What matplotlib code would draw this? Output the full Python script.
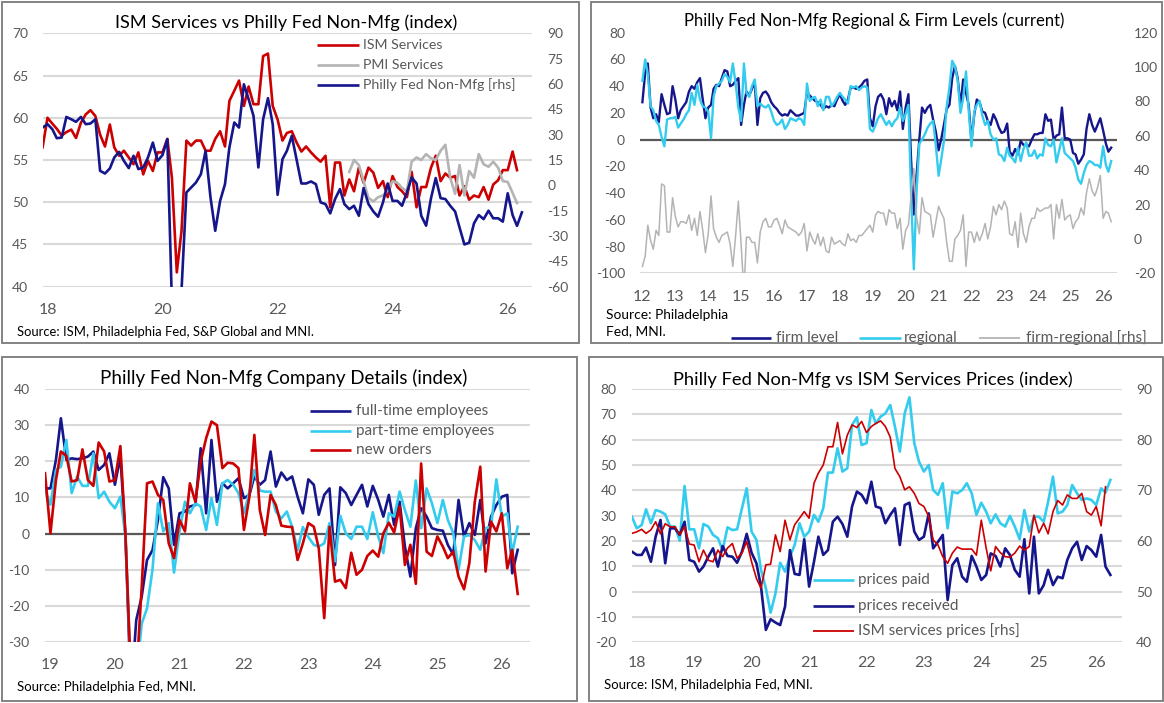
import numpy as np
import pandas as pd
import matplotlib
matplotlib.use("Agg")
import matplotlib.pyplot as plt
import matplotlib.dates as mdates
from matplotlib.lines import Line2D
from matplotlib.patches import Rectangle
from datetime import datetime

plt.rcParams['font.family'] = ['Lato', 'DejaVu Sans']
plt.rcParams['axes.unicode_minus'] = False

# ======================= DATA =======================
# ---- Panel 1: ISM Services vs Philly Fed Non-Mfg (monthly, from Dec 2017)
p1_start = '2017-12-01'
ism_services = [
    56.5,
    60.0, 59.3, 58.7, 57.9, 58.3, 58.6, 57.6, 59.4, 60.4, 60.9, 60.2, 58.0,
    56.6, 59.2, 56.5, 55.5, 56.1, 55.3, 54.5, 55.9, 53.3, 54.9, 53.7, 55.9,
    55.9, 57.5, 52.9, 41.7, 46.6, 57.3, 56.7, 57.3, 57.3, 56.1, 56.1, 57.5,
    58.4, 56.6, 62.0, 63.2, 64.4, 61.4, 63.7, 61.6, 61.6, 67.3, 67.6, 61.4,
    59.8, 57.3, 58.2, 58.4, 57.1, 56.0, 56.6, 55.9, 55.3, 54.8, 55.5, 49.4,
    54.7, 54.7, 50.8, 52.7, 51.3, 54.1, 52.3, 54.1, 53.5, 51.7, 52.5, 50.6,
    53.1, 51.8, 51.3, 50.6, 53.6, 49.4, 51.8, 51.8, 54.1, 55.5, 52.5, 53.4,
    52.9, 53.1, 50.8, 51.9, 50.3, 50.8, 50.6, 51.8, 50.3, 52.1, 52.6, 53.8,
    53.8, 56.0, 53.8]
pmi_start = '2023-04-01'
pmi_services = [
    53.6, 55.0, 54.4, 52.5, 50.5, 50.1, 50.6, 50.8, 51.4,
    52.5, 52.3, 51.7, 51.3, 54.8, 55.3, 55.0, 55.7, 55.2, 55.0, 56.1, 56.8,
    52.9, 51.0, 54.4, 50.8, 53.7, 52.9, 55.7, 54.5, 54.2, 54.8, 54.1, 52.5,
    52.4, 51.1, 49.9]
philly_nonmfg = [
    34.2,
    36.2, 33.2, 27.9, 28.3, 40.5, 39.1, 37.6, 40.5, 36.2, 36.6, 39.1, 8.6,
    7.0, 10.0, 16.5, 19.8, 14.5, 10.2, 17.5, 9.6, 10.6, 16.5, 25.3, 14.5,
    17.9, 27.3, -70.0, -80.0, -62.0, -4.2, -1.3, 1.7, 6.6, 20.4, -7.2, -26.9,
    -9.2, 0.7, 22.5, 37.2, 34.2, 59.8, 51.0, 41.1, 10.6, 39.1, 51.6, 36.2,
    -5.6, 15.5, 20.4, 29.3, 15.5, 1.1, 1.1, 2.3, 0.7, -10.1, -11.1, -16.6,
    -8.1, -2.2, -11.1, -14.1, -12.1, -18.0, -1.6, -11.1, -15.5, -18.6, -10.1, 1.1,
    -9.2, -9.2, -12.1, -4.2, 4.7, 1.1, -18.0, -23.9, -7.6, 4.3, -7.6, -8.1,
    -12.1, -15.5, -24.9, -35.0, -34.0, -22.5, -17.6, -20.0, -15.0, -19.5, -19.5, -21.5,
    -4.7, -17.6, -24.0, -16.0]
p1_years = [2018, 2020, 2022, 2024, 2026]

# ---- Panel 2: Regional & firm levels (monthly, from Jan 2012)
p2_start = '2012-01-01'
firm_level = [
    28, 50, 57, 24, 16, 19, 13, 34, 26, 19,
    20, 40, 30, 16, 22, 25, 28, 36, 40, 38,
    43, 46, 30, 16, 24, 26, 38, 41, 40, 46,
    52, 51, 40, 41, 44, 46, 11, 26, 36, 33,
    38, 43, 11, 31, 35, 36, 33, 28, 25, 23,
    20, 18, 19, 18, 22, 20, 18, 18, 19, 20,
    35, 33, 31, 29, 28, 26, 23, 25, 24, 26,
    25, 30, 34, 29, 26, 30, 39, 39, 38, 39,
    41, 44, 45, 16, 10, 25, 32, 34,
    30, 19, 31, 25, 29, 22, 36, 8, 24, 34,
    -14, -56, -27, 0, 24, 20, 24, 26, 15, 6,
    -8, 1, 11, 23, 26, 46, 55, 46, 25, 45,
    35, 26, -1, 19, 30, 28, 21, 20, 14, 11,
    19, 15, 9, 5, 6, 12, -9, -12, -7, -11,
    -1, -4, -4, -5, 0, 4, 4, 5, 5, 19,
    14, 15, 0, 3, 4, 24, 1, 1, 0, -10,
    -11, -18, -15, -11, 8, 19, 11, 6, 11, 16,
    7, -3, -9, -6]
regional = [
    44, 60, 49, 25, 22, 14, 11, 2, -5, 15,
    16, 16, 17, 9, 12, 15, 19, 22, 35, 26,
    41, 30, 25, 24, 21, 1, 32, 40, 42, 44,
    49, 47, 43, 57, 42, 24, 14, 57, 35, 32,
    40, 45, 25, 27, 25, 24, 26, 21, 14, 11,
    12, 15, 8, 11, 16, 15, 14, 16, 15, 11,
    42, 29, 31, 32, 25, 30, 22, 32, 32, 25,
    28, 32, 35, 32, 30, 27, 40, 39, 40, 37,
    39, 40, 39, 8, 6, 11, 16, 19,
    15, 11, 14, 10, 14, 16, 24, 14, 19, 26,
    -39, -97, -40, -3, 0, 4, 9, 12, 14, -4,
    -27, -14, -1, 25, 39, 59, 55, 44, 20, 31,
    51, 22, -5, 21, 26, 29, 18, 11, 14, 4,
    0, 1, -11, -12, -16, -6, -12, -14, -17, -6,
    -16, -7, -2, -12, -12, -8, -14, -11, -12, 1,
    -4, -5, 0, -17, -8, 1, -10, -12, -14, -16,
    -21, -30, -33, -25, -19, -16, -17, -19, -19, -21,
    -5, -19, -24, -16]
p2_years = list(range(2012, 2027))

# ---- Panel 3: company details (monthly, from Dec 2018)
p3_start = '2018-12-01'
full_time = [
    12.5, 12.5, 20.4, 31.9, 20.4, 20.8, 20.6, 20.8, 21.3, 22.7, 17.6, 19.0, 22.2,
    13.5, 21.3, -0.8, -45.0, -23.9, -17.4, -7.3, -4.6, 3.8, 15.6, 12.5, -3.1,
    5.6, 6.1, 7.5, 7.9, 23.6, 5.6, 25.9, 8.8, 13.9, 12.5, 13.9, 15.3,
    9.8, 10.7, 15.8, 13.5, 14.8, 22.7, 13.0, 16.9, 14.8, 15.8, 10.2, 5.6,
    15.0, 13.5, 5.2, 10.7, 12.5, -8.7, 12.8, 11.2, 7.9, 10.7, 13.5, 7.5,
    13.2, 9.3, 4.7, 10.7, 2.4, 8.8, -3.6, -11.9, 1.5, 7.0, 4.7, 1.5,
    1.0, 0.8, -3.1, -5.8, 9.3, -0.8, 2.9, -0.4, 9.3, -2.7, 4.7, 7.9,
    10.2, 10.7, -11.0, -4.5]
part_time = [
    12.0, 8.0, 17.6, 18.5, 25.9, 11.2, 15.8, 13.2, 13.2, 22.2, 9.8, 11.6, 8.8,
    7.0, 10.2, -0.8, -40.0, -40.0, -24.9, -20.7, -10.0, 8.4, 0.6, 2.9, -10.8,
    0.6, 8.8, 5.6, 8.4, 7.5, 1.0, 9.8, 2.4, 13.9, 14.8, 13.5, 11.2,
    5.6, 11.6, 17.6, 11.9, 11.6, 11.6, 6.1, 4.2, 6.1, 1.9, -4.6, 1.8,
    -1.0, -3.1, -3.6, -2.7, 2.9, -7.7, 4.9, 0.1, -1.5, 1.9, 1.9, -1.5,
    5.9, -0.8, -5.4, 5.6, 4.7, 11.6, 6.5, 1.9, 14.7, 1.5, 12.5, 8.4,
    2.9, 9.3, 3.8, 0.1, -10.0, -0.8, -0.4, -1.8, -4.5, 1.5, 1.9, 15.0,
    4.7, 5.6, -5.4, 1.9]
new_orders = [
    16.7, 0.1, 14.8, 22.7, 21.5, 14.4, 14.8, 23.3, 14.8, 13.2, 25.2, 22.7, 14.4,
    14.8, 24.2, -0.4, -40.0, -40.0, -14.7, 13.9, 14.4, 10.7, 9.3, -2.7, -6.8,
    3.8, 0.6, 13.9, 8.8, 19.9, 26.4, 31.0, 30.0, 18.1, 19.6, 19.4, 18.1,
    1.0, 10.2, 27.3, 6.5, -0.4, 10.7, 7.9, 2.2, 1.9, 1.8, -7.3, -2.7,
    2.9, 1.9, -4.1, -23.4, 1.9, -13.3, -12.8, -15.1, -5.3, -11.4, -10.0, -6.2,
    -4.7, -6.4, 0.1, 3.0, 0.3, 7.5, -8.7, -3.1, -13.9, 19.4, -5.0, -6.2,
    -0.8, -3.6, -6.8, -5.0, -11.9, -15.4, -8.2, 8.8, 18.5, -10.5, 3.3, 0.6,
    5.6, -9.6, -4.5, -16.7]
p3_years = list(range(2019, 2027))

# ---- Panel 4: prices (monthly, from Dec 2017)
p4_start = '2017-12-01'
prices_paid = [
    29.6,
    25.0, 26.3, 32.5, 27.0, 32.2, 31.6, 30.5, 25.7, 25.7, 20.1, 41.7, 24.6,
    24.6, 17.1, 26.7, 25.7, 22.4, 21.1, 16.4, 25.4, 24.3, 24.6, 32.9, 40.8,
    23.7, 20.4, 8.6, 1.3, -8.3, -0.7, 11.4, 7.9, 13.8, 18.4, 27.0, 21.7,
    23.7, 30.3, 27.6, 32.9, 47.0, 47.0, 56.6, 47.4, 48.7, 65.8, 68.8, 57.9,
    58.6, 71.7, 66.4, 69.1, 70.4, 73.7, 65.1, 55.3, 70.4, 76.7, 58.6, 51.3,
    47.4, 50.0, 40.1, 38.2, 42.8, 25.0, 39.5, 38.8, 40.1, 42.8, 38.8, 30.3,
    35.1, 31.6, 27.0, 30.5, 27.0, 25.7, 29.9, 25.7, 20.7, 32.2, 23.7, 29.6,
    29.6, 27.6, 35.5, 45.4, 30.9, 31.6, 34.2, 42.1, 38.8, 36.2, 36.8, 36.2,
    34.2, 40.8, 39.1, 44.1]
prices_received = [
    15.8,
    14.5, 14.5, 17.4, 11.8, 21.7, 28.3, 11.2, 25.0, 25.0, 22.4, 27.6, 12.5,
    11.8, 7.9, 9.9, 13.8, 17.1, 9.9, 18.0, 14.1, 13.8, 11.4, 15.8, 22.8,
    15.4, 11.2, 2.0, -15.1, -10.9, -12.2, -13.2, -5.9, 16.4, 7.0, 6.6, 20.7,
    2.0, 11.8, 21.7, 14.5, 16.4, 27.6, 29.6, 26.7, 21.7, 33.6, 39.5, 38.2,
    34.9, 43.4, 33.6, 33.0, 27.0, 30.3, 32.9, 18.4, 34.2, 35.1, 23.7, 20.4,
    21.7, 30.9, 17.1, 19.7, 22.4, -3.3, 10.5, 13.2, 5.9, 3.9, 14.1, 9.9,
    4.6, 6.6, 15.1, 14.1, 9.9, 17.1, 14.5, 8.6, 5.9, 20.7, -0.7, 21.7,
    -0.7, 2.6, 8.6, 2.6, 5.9, 5.3, 12.5, 17.1, 19.7, 12.5, 18.0, 16.4,
    13.8, 22.4, 9.9, 6.6]
ism_prices = [
    61.5,
    61.8, 62.3, 61.5, 62.2, 63.8, 61.4, 63.4, 62.8, 62.8, 61.2, 62.8, 59.4,
    59.2, 55.9, 58.2, 56.2, 55.9, 58.2, 56.9, 58.6, 59.5, 56.6, 57.6, 59.9,
    55.9, 52.6, 50.7, 55.3, 55.4, 61.2, 57.9, 64.1, 60.2, 63.2, 64.5, 65.8,
    64.5, 71.4, 73.4, 75.0, 78.6, 78.6, 83.4, 77.2, 80.9, 82.9, 82.4, 83.6,
    81.4, 82.6, 83.2, 83.7, 82.6, 80.5, 74.3, 72.7, 70.1, 70.7, 69.4, 67.4,
    66.8, 64.8, 60.2, 59.2, 56.9, 55.6, 57.6, 58.8, 58.4, 58.4, 58.4, 57.2,
    64.1, 58.6, 54.1, 58.9, 57.7, 56.9, 56.8, 57.6, 59.0, 58.2, 58.9, 65.1,
    61.6, 63.5, 61.4, 65.8, 68.0, 67.1, 69.1, 68.4, 68.4, 69.4, 65.8, 65.1,
    66.8, 63.0, 70.7]
p4_years = list(range(2018, 2027))

# ======================= STYLE =======================
W, H = 1164, 703
NAVY = '#16168C'
CYAN = '#33CCEE'
RED = '#CC0000'
LGRAY = '#B4B4B4'
GRID = '#D9D9D9'
TICK = '#595959'
AXLINE = '#595959'
FRAME = '#7A7A7A'

fig = plt.figure(figsize=(W / 100, H / 100), dpi=100)


def px_rect(x0, y0, x1, y1):
    return [x0 / W, 1 - y1 / H, (x1 - x0) / W, (y1 - y0) / H]


def ftext(x, y, s, **kw):
    return fig.text(x / W, 1 - y / H, s, **kw)


def frame(x0, y0, x1, y1):
    fig.add_artist(Rectangle((x0 / W, 1 - y1 / H), (x1 - x0) / W, (y1 - y0) / H,
                             transform=fig.transFigure, fill=False,
                             edgecolor=FRAME, linewidth=1.3, zorder=10))


def legend_entry(x0, x1, xt, y, color, lw, label, size=11):
    fig.add_artist(Line2D([x0 / W, x1 / W], [1 - y / H, 1 - y / H], color=color,
                          lw=lw, transform=fig.transFigure, solid_capstyle='butt'))
    ftext(xt, y, label, color=TICK, fontsize=size, va='center', ha='left')


def make_axes(rect, xlim, years, ylim, yticks, ypad, xpad, grid, zero=False,
              ysize=10, xsize=11.5):
    ax = fig.add_axes(px_rect(*rect))
    ax.set_xlim(pd.Timestamp(xlim[0]), pd.Timestamp(xlim[1]))
    ax.set_ylim(*ylim)
    ax.set_yticks(yticks)
    ax.set_xticks([datetime(y, 1, 1) for y in years])
    ax.xaxis.set_major_formatter(mdates.DateFormatter('%y'))
    for s in ax.spines.values():
        s.set_visible(False)
    ax.tick_params(length=0, colors=TICK)
    ax.tick_params(axis='y', labelsize=ysize, pad=ypad)
    ax.tick_params(axis='x', labelsize=xsize, pad=xpad)
    for g in grid:
        ax.axhline(g, color=GRID, lw=1.5, zorder=0.5)
    if zero:
        ax.axhline(0, color=AXLINE, lw=1.6, zorder=1)
    ax.patch.set_alpha(0)
    return ax


def make_twin(ax, ylim, yticks, pad, size=10):
    ax2 = ax.twinx()
    ax2.set_ylim(*ylim)
    ax2.set_yticks(yticks)
    for s in ax2.spines.values():
        s.set_visible(False)
    ax2.tick_params(length=0, colors=TICK, labelsize=size, pad=pad)
    return ax2


def mdates_range(start, n):
    return pd.date_range(start, periods=n, freq='MS')


LW = 1.9

# ======================= PANEL 1 =======================
frame(2, 2, 578.5, 343.5)
ax1 = make_axes((42.6, 33.3, 531.5, 286.7), ('2017-12-01', '2026-06-01'), p1_years,
                (40, 70), np.arange(40, 71, 5), ypad=10.5, xpad=12,
                grid=np.arange(40, 71, 5))
ax1.plot(mdates_range(p1_start, len(ism_services)), ism_services, color=RED, lw=LW,
         solid_joinstyle='round')
ax1.plot(mdates_range(pmi_start, len(pmi_services)), pmi_services, color=LGRAY, lw=LW,
         solid_joinstyle='round')
ax1b = make_twin(ax1, (-60, 90), np.arange(-60, 91, 15), pad=11.5)
ax1b.plot(mdates_range(p1_start, len(philly_nonmfg)), philly_nonmfg, color=NAVY, lw=LW,
          solid_joinstyle='round')
ftext(286, 22.3, 'ISM Services vs Philly Fed Non-Mfg (index)', fontsize=13.1,
      ha='center', va='center', color='black')
ftext(16.7, 332.3, 'Source: ISM, Philadelphia Fed, S&P Global and MNI.', fontsize=9.4,
      ha='left', va='center', color='black')
legend_entry(317.4, 359.3, 363, 45, RED, LW, 'ISM Services', size=10.2)
legend_entry(317.4, 359.3, 363, 65, LGRAY, LW, 'PMI Services', size=10.2)
legend_entry(317.4, 359.3, 363, 85, NAVY, LW, 'Philly Fed Non-Mfg [rhs]', size=10.2)

# ======================= PANEL 2 =======================
frame(591, 2, 1162, 343.5)
ax2 = make_axes((639.6, 32.7, 1116.7, 273.3), ('2011-12-01', '2026-06-01'), p2_years,
                (-100, 80), np.arange(-100, 81, 20), ypad=10.5, xpad=12,
                grid=[-100], zero=True)
p2_dates = mdates_range(p2_start, len(firm_level))
ax2.plot(p2_dates, firm_level, color=NAVY, lw=1.7, solid_joinstyle='round')
ax2.plot(p2_dates, regional, color=CYAN, lw=1.7, solid_joinstyle='round')
ax2b = make_twin(ax2, (-20, 120), np.arange(-20, 121, 20), pad=12.5)
firm_minus_regional = np.array(firm_level) - np.array(regional)
ax2b.plot(p2_dates, firm_minus_regional, color=LGRAY, lw=1.1, solid_joinstyle='round')
ftext(874.4, 20.7, 'Philly Fed Non-Mfg Regional & Firm Levels (current)', fontsize=12.0,
      ha='center', va='center', color='black')
ftext(606, 323, 'Source: Philadelphia\nFed, MNI.', fontsize=9.9, ha='left', va='center',
      color='black', linespacing=1.45)
legend_entry(730.5, 771.4, 775.8, 337.7, NAVY, LW, 'firm level')
legend_entry(858.6, 900.6, 904.3, 337.7, CYAN, LW, 'regional')
legend_entry(979.3, 1020.2, 1025.7, 337.7, LGRAY, 1.3, 'firm-regional [rhs]')

# ======================= PANEL 3 =======================
frame(2, 356.7, 577, 701)
ax3 = make_axes((45, 389, 530.4, 642), ('2018-12-01', '2026-06-12'), p3_years,
                (-30, 40), np.arange(-30, 41, 10), ypad=11, xpad=11.5,
                grid=np.arange(-30, 41, 10), zero=True)
p3_dates = mdates_range(p3_start, len(full_time))
ax3.plot(p3_dates, full_time, color=NAVY, lw=LW, solid_joinstyle='round')
ax3.plot(p3_dates, part_time, color=CYAN, lw=LW, solid_joinstyle='round')
ax3.plot(p3_dates, new_orders, color=RED, lw=LW, solid_joinstyle='round')
ftext(283.9, 377.7, 'Philly Fed Non-Mfg Company Details (index)', fontsize=13.5,
      ha='center', va='center', color='black')
ftext(17.4, 687.3, 'Source: Philadelphia Fed, MNI.', fontsize=9.5, ha='left', va='center',
      color='black')
legend_entry(310, 351, 355.6, 411, NAVY, LW, 'full-time employees')
legend_entry(310, 351, 355.6, 431, CYAN, LW, 'part-time employees')
legend_entry(310, 351, 355.6, 450, RED, LW, 'new orders')

# ======================= PANEL 4 =======================
frame(588.7, 356.7, 1162.5, 700.5)
ax4 = make_axes((631.9, 389, 1121.7, 642.3), ('2017-12-01', '2026-06-12'), p4_years,
                (-20, 80), np.arange(-20, 81, 10), ypad=11, xpad=10,
                grid=np.arange(-20, 81, 10))
p4_dates = mdates_range(p4_start, len(prices_paid))
ax4.plot(p4_dates, prices_paid, color=CYAN, lw=LW, solid_joinstyle='round')
ax4.plot(p4_dates, prices_received, color=NAVY, lw=LW, solid_joinstyle='round')
ax4b = make_twin(ax4, (40, 90), np.arange(40, 91, 10), pad=10.5)
ax4b.plot(mdates_range(p4_start, len(ism_prices)), ism_prices, color=RED, lw=1.2,
          solid_joinstyle='round')
ftext(873.2, 379.3, 'Philly Fed Non-Mfg vs ISM Services Prices (index)', fontsize=13.2,
      ha='center', va='center', color='black')
ftext(604.2, 685, 'Source: ISM, Philadelphia Fed, MNI.', fontsize=9.5, ha='left',
      va='center', color='black')
legend_entry(813, 853.6, 858.4, 580, CYAN, LW, 'prices paid')
legend_entry(813, 853.6, 858.4, 605.7, NAVY, LW, 'prices received')
legend_entry(813, 853.6, 858.4, 631, RED, 1.3, 'ISM services prices [rhs]')

fig.savefig('out.png', dpi=100)
